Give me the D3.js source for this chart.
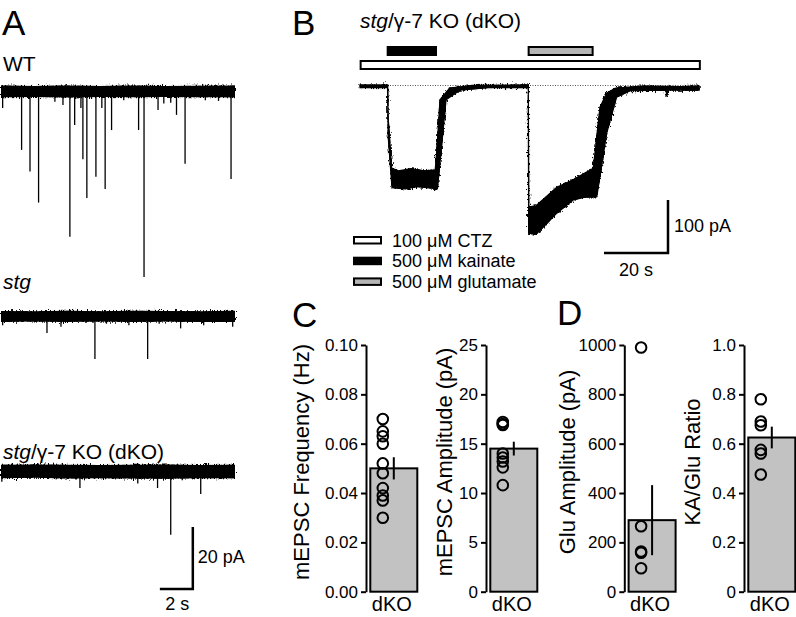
<!DOCTYPE html>
<html><head><meta charset="utf-8">
<script src="https://cdn.jsdelivr.net/npm/d3@7"></script>
<style>
body{margin:0;background:#fff}
svg{display:block}
text{font-family:"Liberation Sans",Arial,Helvetica,sans-serif;fill:#000}
</style>
</head><body>
<svg id="fig" width="796" height="617"></svg>
<script>
// ================= DATA =================
// Panel A: mEPSC traces (time in s, event amplitude in pA, downward)
const traceDuration = 14.2;
const wtEvents  = [[0.10,5.5],[1.25,19],[1.76,26],[2.28,36],[3.27,3.5],[3.76,4.5],[4.18,47],[4.47,11],[4.85,5.5],[4.97,22],[5.21,34.5],[5.76,27.7],[6.12,5.5],[6.32,31.6],[6.71,12.6],[7.45,3],[8.35,12.6],[8.68,60],[9.53,6.1],[9.88,4],[10.3,3.8],[10.65,7.7],[11.17,23.5],[12.4,3],[13.2,3.2],[13.96,28.4]];
const stgEvents = [[0.1,3],[2.79,5.5],[3.64,3.5],[5.70,13.9],[6.4,2.5],[7.76,3],[8.90,13.9],[9.6,2.5],[10.9,4],[12.3,3],[14.06,3.5]];
const dkoEvents = [[0.05,3.5],[4.79,5.5],[6.2,2.5],[8.3,4],[9.5,5.5],[10.30,20.6],[11.0,3],[12.12,7.4],[13.5,2.5]];
// baseline noise envelope [t, upper pA, lower pA]
const wtNoise  = [[0,1.8,-2.0],[2,1.6,-1.9],[4,1.8,-2.1],[6,1.6,-1.9],[8,1.8,-2.0],[10,1.6,-1.9],[12,1.7,-2.0],[14.2,1.8,-2.0]];
const stgNoise = [[0,1.6,-1.9],[2,1.5,-1.8],[4,1.7,-1.9],[6,1.5,-1.8],[8,1.7,-1.9],[10,1.6,-1.8],[12,1.5,-1.9],[14.2,1.7,-1.9]];
const dkoNoise = [[0,2.0,-2.3],[2,2.1,-2.2],[4,2.0,-2.4],[6,1.9,-2.3],[8,2.0,-2.4],[10,2.1,-2.5],[12,1.9,-2.3],[14.2,2.0,-2.3]];
const traceLabels = ["WT", "stg", "stg/γ-7 KO (dKO)"];

// Panel B: whole-cell current (time s, current pA), edges of recorded band
const bUpper = [[0,2],[8.65,2],[8.8,-60],[9.9,-155],[12,-160],[16,-156],[20,-160],[23.5,-158],[23.9,-130],[25.0,-26],[28,-4],[35,1],[52.6,2],[52.75,-228],[55,-226],[58,-210],[61.5,-191],[66.6,-177],[70,-165],[72.9,-155],[75,-40],[77.1,-13],[80,-4],[88,0],[100,-1],[106,0]];
const bLower = [[0,-3],[8.6,-3],[8.8,-95],[10.0,-192],[14,-194],[18,-190],[24.2,-194],[26.9,-26],[31.2,-8],[40,-3],[52.6,-3],[52.7,-278],[55,-280],[58,-262],[61.5,-240],[66.6,-215],[70,-210],[74,-209],[77.1,-89],[80.2,-21],[84.4,-9],[95.6,-8],[95.9,-20],[96.2,-8],[106,-8]];
const bDuration = 106.25;
const applications = [["CTZ",0.2,106.2],["kainate",8.65,23.75],["glutamate",52.7,72.7]];
const legendLabels = ["100 μM CTZ","500 μM kainate","500 μM glutamate"];

// Panels C, D
const categories = ["dKO"];
const freqPoints  = [0.070,0.065,0.063,0.060,0.052,0.048,0.042,0.039,0.037,0.030];
const freqMean = 0.050, freqSem = 0.0045;
const ampPoints   = [17.2,17.0,16.9,14.0,13.6,13.2,12.6,10.8];
const ampMean = 14.5, ampSem = 0.7;
const gluPoints   = [990,265,163,158,95];
const gluMean = 290, gluSem = 142;
const ratioPoints = [0.78,0.69,0.675,0.575,0.56,0.475];
const ratioMean = 0.625, ratioSem = 0.044;
const freqTicks  = [0,0.02,0.04,0.06,0.08,0.10];
const ampTicks   = [0,5,10,15,20,25];
const gluTicks   = [0,200,400,600,800,1000];
const ratioTicks = [0,0.2,0.4,0.6,0.8,1.0];

// ================= DRAWING =================
const svg = d3.select("#fig");
const defs = svg.append("defs");
const flt = defs.append("filter").attr("id","rough").attr("x","-5%").attr("y","-60%").attr("width","110%").attr("height","220%");
flt.append("feTurbulence").attr("type","fractalNoise").attr("baseFrequency","0.9 0.35").attr("numOctaves",2).attr("seed",4).attr("result","n");
flt.append("feDisplacementMap").attr("in","SourceGraphic").attr("in2","n").attr("scale",7).attr("xChannelSelector","R").attr("yChannelSelector","G");

function text(x, y, s, size, anchor){
  return svg.append("text").attr("x",x).attr("y",y).attr("font-size",size).attr("text-anchor",anchor||"start").text(s);
}
function dkoTitle(x, y, size){
  const t = svg.append("text").attr("x",x).attr("y",y).attr("font-size",size);
  t.append("tspan").attr("font-style","italic").text("stg");
  t.append("tspan").text("/γ-7 KO (dKO)");
  return t;
}

// panel letters
text(2,35,"A",35); text(292,35,"B",35); text(292,327,"C",35); text(557,325,"D",35);

// ---- Panel A ----
const xA = d3.scaleLinear().domain([0, traceDuration]).range([1, 235]);
const pxPerPA = 3.1;
function yTrace(base){ return d3.scaleLinear().domain([0,-10]).range([base, base + 10*pxPerPA]); }
function drawTrace(base, noise, events){
  const y = yTrace(base);
  const area = d3.area().x(d=>xA(d[0])).y0(d=>y(d[2])).y1(d=>y(d[1]));
  svg.append("path").attr("d", area(noise)).attr("fill","#000").attr("filter","url(#rough)");
  svg.append("path").attr("d", area(noise)).attr("fill","#000");
  svg.append("g").selectAll("line").data(events).join("line")
    .attr("x1",d=>xA(d[0])).attr("x2",d=>xA(d[0]))
    .attr("y1",y(0)).attr("y2",d=>y(-d[1]))
    .attr("stroke","#000").attr("stroke-width",1.3);
  return y;
}
text(3,71,traceLabels[0],21);
drawTrace(91, wtNoise, wtEvents);
svg.append("text").attr("x",3).attr("y",289).attr("font-size",21).attr("font-style","italic").text(traceLabels[1]);
drawTrace(316, stgNoise, stgEvents);
dkoTitle(3,459,21);
const yDko = drawTrace(471, dkoNoise, dkoEvents);
// scale bar A : 20 pA, 2 s
{
  const t0 = 11.64, iBot = -38.1;
  const p = d3.path();
  p.moveTo(xA(t0-2), yDko(iBot)); p.lineTo(xA(t0), yDko(iBot)); p.lineTo(xA(t0), yDko(iBot+20));
  svg.append("path").attr("d",p.toString()).attr("fill","none").attr("stroke","#000").attr("stroke-width",2.5);
  text(xA(t0)+5, 563, "20 pA", 18);
  text(xA(t0-1)+1, 610, "2 s", 18, "middle");
}

// ---- Panel B ----
dkoTitle(360,28,21);
const xB = d3.scaleLinear().domain([0, bDuration]).range([360, 700]);
const yB = d3.scaleLinear().domain([0,-100]).range([86, 139]);
const appY = {CTZ:[61,69], kainate:[47,55], glutamate:[47,55]};
const appFill = {CTZ:"#fff", kainate:"#000", glutamate:"#b5b5b5"};
svg.append("g").selectAll("rect").data(applications).join("rect")
  .attr("x",d=>xB(d[1])).attr("width",d=>xB(d[2])-xB(d[1]))
  .attr("y",d=>appY[d[0]][0]).attr("height",d=>appY[d[0]][1]-appY[d[0]][0])
  .attr("fill",d=>appFill[d[0]]).attr("stroke","#000").attr("stroke-width",2);
// dotted baseline
svg.append("line").attr("x1",xB(0)).attr("x2",xB(bDuration)).attr("y1",yB(0)-0.5).attr("y2",yB(0)-0.5)
  .attr("stroke","#555").attr("stroke-width",1).attr("stroke-dasharray","1,1.5");
// current band
const bLine = d3.line().x(d=>xB(d[0])).y(d=>yB(d[1]));
const bPoly = bUpper.concat(bLower.slice().reverse());
svg.append("path").attr("d", bLine(bPoly)+"Z").attr("fill","#000").attr("stroke","#000").attr("stroke-width",1).attr("filter","url(#rough)");
svg.append("path").attr("d", bLine(bPoly)+"Z").attr("fill","#000").attr("stroke","#000").attr("stroke-width",1.2);
// scale bar B: 100 pA, 20 s
{
  const t1 = 96.25, iBot = -315;
  const p = d3.path();
  p.moveTo(xB(t1-20), yB(iBot)); p.lineTo(xB(t1), yB(iBot)); p.lineTo(xB(t1), yB(iBot+100));
  svg.append("path").attr("d",p.toString()).attr("fill","none").attr("stroke","#000").attr("stroke-width",2.5);
  text(xB(t1)+6, 232, "100 pA", 18);
  text(xB(t1-10), 276, "20 s", 18, "middle");
}
// legend
const legFill = ["#fff","#000","#b5b5b5"];
legendLabels.forEach((s,i)=>{
  const yy = 237 + i*20.7;
  svg.append("rect").attr("x",354).attr("y",yy).attr("width",27).attr("height",6.5)
    .attr("fill",legFill[i]).attr("stroke","#000").attr("stroke-width",2);
  text(392, yy+9.5, s, 18);
});

// ---- Panels C & D ----
const yTop = 345, yBot = 591.7;
function barPanel(axisX, maxV, ticks, fmt, points, mean, sem, label, labelX){
  const y = d3.scaleLinear().domain([0,maxV]).range([yBot, yTop]);
  const xb = d3.scaleBand().domain(categories).range([axisX+4.3, axisX+51.3]).padding(0);
  const g = svg.append("g");
  g.append("rect").attr("x",xb("dKO")).attr("width",xb.bandwidth())
    .attr("y",y(mean)).attr("height",y(0)-y(mean))
    .attr("fill","#c2c2c2").attr("stroke","#000").attr("stroke-width",2);
  const cx = xb("dKO") + xb.bandwidth()/2;
  g.append("line").attr("x1",cx).attr("x2",cx).attr("y1",y(mean+sem)).attr("y2",y(mean-sem))
    .attr("stroke","#000").attr("stroke-width",2);
  g.selectAll("circle").data(points).join("circle")
    .attr("cx", xb("dKO")+12.5).attr("cy", d=>y(d)).attr("r",5.3)
    .attr("fill","none").attr("stroke","#000").attr("stroke-width",2);
  const ax = svg.append("g").attr("transform",`translate(${axisX},0)`)
    .call(d3.axisLeft(y).tickValues(ticks).tickFormat(fmt).tickSize(5).tickSizeOuter(0).tickPadding(3));
  ax.select(".domain").attr("stroke","#000").attr("stroke-width",2);
  ax.selectAll(".tick line").attr("stroke","#000").attr("stroke-width",2);
  ax.selectAll(".tick text").attr("font-size",17).attr("font-family",null).attr("fill","#000");
  svg.append("text").attr("transform",`translate(${labelX},462) rotate(-90)`)
    .attr("text-anchor","middle").attr("font-size",22).text(label);
  text(cx-2, 611, categories[0], 20, "middle");
}
barPanel(366, 0.10, freqTicks, d3.format(".2f"), freqPoints, freqMean, freqSem, "mEPSC Frequency (Hz)", 309);
barPanel(486, 25, ampTicks, d3.format("d"), ampPoints, ampMean, ampSem, "mEPSC Amplitude (pA)", 452);
barPanel(624.3, 1000, gluTicks, d3.format("d"), gluPoints, gluMean, gluSem, "Glu Amplitude (pA)", 575);
barPanel(744, 1.0, ratioTicks, d=> d===0 ? "0" : d3.format(".1f")(d), ratioPoints, ratioMean, ratioSem, "KA/Glu Ratio", 700);
</script>
</body></html>
